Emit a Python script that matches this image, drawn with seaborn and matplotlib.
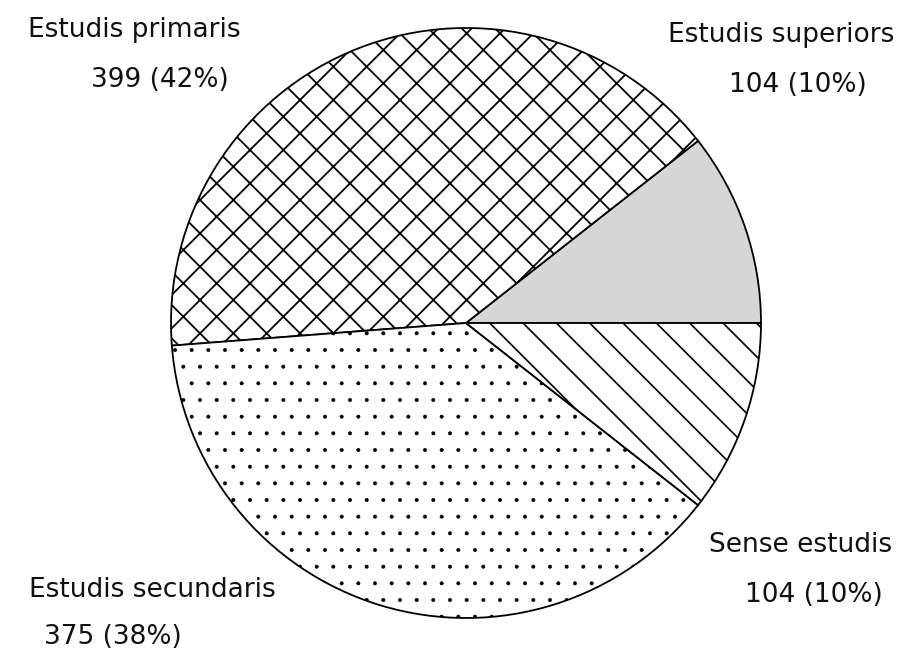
import matplotlib
matplotlib.use("Agg")
import matplotlib.pyplot as plt
import seaborn as sns

# dades (ordre antihorari des de les 3 en punt)
categories = ["Estudis superiors", "Estudis primaris", "Estudis secundaris", "Sense estudis"]
counts = [104, 399, 375, 104]
pct_labels = [10, 42, 38, 10]

sns.set_theme(style="white")
plt.rcParams["font.family"] = ["DejaVu Sans"]
plt.rcParams["hatch.linewidth"] = 1.3

W, H = 915, 660
fig = plt.figure(figsize=(W / 100, H / 100), dpi=100)
ax = fig.add_axes([0, 0, 1, 1])

face = ["#d6d6d6", "white", "white", "white"]
hatches = [None, "x", ".", "\\"]
hatch_lw = [1.3, 1.3, 0.4, 1.2]

wedges, _ = ax.pie(counts, startangle=0, counterclock=True,
                   center=(466, H - 323), radius=295,
                   colors=face, frame=False,
                   wedgeprops=dict(edgecolor="black", linewidth=1.3))
for w, h, lw in zip(wedges, hatches, hatch_lw):
    if h:
        w.set_hatch(h)
        if hasattr(w, "set_hatch_linewidth"):
            w.set_hatch_linewidth(lw)

ax.set_xlim(0, W)
ax.set_ylim(0, H)
ax.set_aspect("equal")
ax.axis("off")

# posicions de les etiquetes (centre, píxels des de dalt)
name_pos = [(781, 35), (134, 30), (152, 590), (801, 545)]
num_pos = [(798, 85), (160, 80), (113, 637), (814, 595)]

for cat, n, p, (nx, ny), (vx, vy) in zip(categories, counts, pct_labels, name_pos, num_pos):
    fig.text(nx / W, 1 - ny / H, cat, ha="center", va="center", fontsize=19, color="#111111")
    fig.text(vx / W, 1 - vy / H, f"{n} ({p}%)", ha="center", va="center", fontsize=19, color="#111111")

fig.savefig("out.png", dpi=100, facecolor="white")
